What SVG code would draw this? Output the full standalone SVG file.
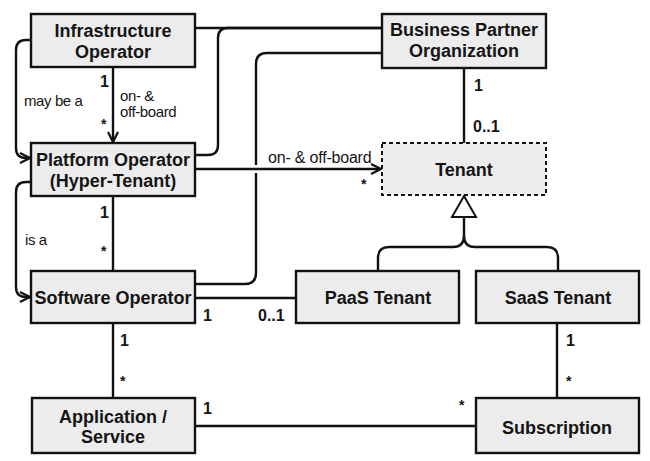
<svg xmlns="http://www.w3.org/2000/svg" width="650" height="461" viewBox="0 0 650 461">
<style>
.box{fill:#ececec;stroke:#111;stroke-width:2.4}
.dash{fill:#ececec;stroke:#111;stroke-width:2;stroke-dasharray:4 3}
.lbl{font-family:"Liberation Sans",Arial,sans-serif;font-weight:bold;font-size:18px;fill:#151515;text-anchor:middle}
.ln{fill:none;stroke:#111;stroke-width:2.4}
.m{font-family:"Liberation Sans",Arial,sans-serif;font-weight:bold;font-size:16px;fill:#151515}
.s{font-family:"Liberation Sans",Arial,sans-serif;font-weight:bold;font-size:14px;fill:#151515}
.t{font-family:"Liberation Sans",Arial,sans-serif;font-size:15px;fill:#151515;letter-spacing:-0.4px}
.t2{font-family:"Liberation Sans",Arial,sans-serif;font-size:16px;fill:#151515;letter-spacing:-0.2px}
</style>
<defs>
<marker id="open" viewBox="0 0 12 12" refX="11" refY="6" markerWidth="12" markerHeight="12" markerUnits="userSpaceOnUse" orient="auto">
<path d="M1,1 L11,6 L1,11" fill="none" stroke="#111" stroke-width="2.2"/>
</marker>
</defs>
<g id="connectors">
<path class="ln" d="M195,28 H382"/>
<path class="ln" d="M195,155 H208 Q218,155 218,145 V38 Q218,28 228,28 H382"/>
<path class="ln" d="M195,284 H245 Q256,284 256,273 V64 Q256,53 267,53 H382"/>
<path d="M200,169 H370" fill="none" stroke="#fff" stroke-width="8"/>
<path class="ln" d="M195,169 H381" marker-end="url(#open)"/>
<path class="ln" d="M113,67 V142" marker-end="url(#open)"/>
<path class="ln" d="M31,40 H26 Q16,40 16,50 V148 Q16,158 26,158 H30" marker-end="url(#open)"/>
<path class="ln" d="M31,182 H26 Q16,182 16,192 V287 Q16,297 26,297 H30" marker-end="url(#open)"/>
<path class="ln" d="M113,196 V271"/>
<path class="ln" d="M195,298 H296"/>
<path class="ln" d="M464,68 V143"/>
<path class="ln" d="M378,271 V258 Q378,247 389,247 H453 Q464,247 464,236 V217"/>
<path class="ln" d="M558,271 V258 Q558,247 547,247 H475 Q464,247 464,236"/>
<path d="M464,196 L476,217 H452 Z" fill="#fff" stroke="#111" stroke-width="2" stroke-linejoin="miter"/>
<path class="ln" d="M113,323 V398"/>
<path class="ln" d="M557,323 V398"/>
<path class="ln" d="M195,426 H476"/>
<text class="m" x="109" y="87" text-anchor="end">1</text>
<text class="s" x="101" y="129">*</text>
<text class="t" x="120" y="101">on- &amp;</text>
<text class="t" x="120" y="117">off-board</text>
<text class="t" x="24" y="106">may be a</text>
<text class="t2" x="268" y="163">on- &amp; off-board</text>
<text class="s" x="361" y="189">*</text>
<text class="m" x="109" y="218" text-anchor="end">1</text>
<text class="s" x="101" y="256">*</text>
<text class="t" x="25" y="245">is a</text>
<text class="m" x="203" y="321">1</text>
<text class="m" x="258" y="321">0..1</text>
<text class="m" x="474" y="91">1</text>
<text class="m" x="473" y="132">0..1</text>
<text class="m" x="120" y="346">1</text>
<text class="s" x="120" y="386">*</text>
<text class="m" x="566" y="346">1</text>
<text class="s" x="566" y="386">*</text>
<text class="m" x="203" y="414">1</text>
<text class="s" x="459" y="410">*</text>
</g>
<g id="infra"><rect class="box" x="31" y="14" width="164" height="53"/><text class="lbl" x="113" y="37">Infrastructure</text><text class="lbl" x="113" y="58">Operator</text></g>
<g id="bpo"><rect class="box" x="382" y="14" width="164" height="54"/><text class="lbl" x="464" y="36">Business Partner</text><text class="lbl" x="464" y="57">Organization</text></g>
<g id="platform"><rect class="box" x="31" y="143" width="164" height="53"/><text class="lbl" x="113" y="166">Platform Operator</text><text class="lbl" x="113" y="187">(Hyper-Tenant)</text></g>
<g id="tenant"><rect class="dash" x="382" y="143" width="164" height="52"/><text class="lbl" x="464" y="176">Tenant</text></g>
<g id="software"><rect class="box" x="31" y="271" width="164" height="52"/><text class="lbl" x="113" y="304">Software Operator</text></g>
<g id="paas"><rect class="box" x="296" y="271" width="163" height="52"/><text class="lbl" x="378" y="304">PaaS Tenant</text></g>
<g id="saas"><rect class="box" x="476" y="271" width="163" height="52"/><text class="lbl" x="558" y="304">SaaS Tenant</text></g>
<g id="app"><rect class="box" x="32" y="398" width="163" height="55"/><text class="lbl" x="113" y="423">Application /</text><text class="lbl" x="113" y="443">Service</text></g>
<g id="subscription"><rect class="box" x="476" y="398" width="163" height="55"/><text class="lbl" x="557" y="434">Subscription</text></g>
</svg>
